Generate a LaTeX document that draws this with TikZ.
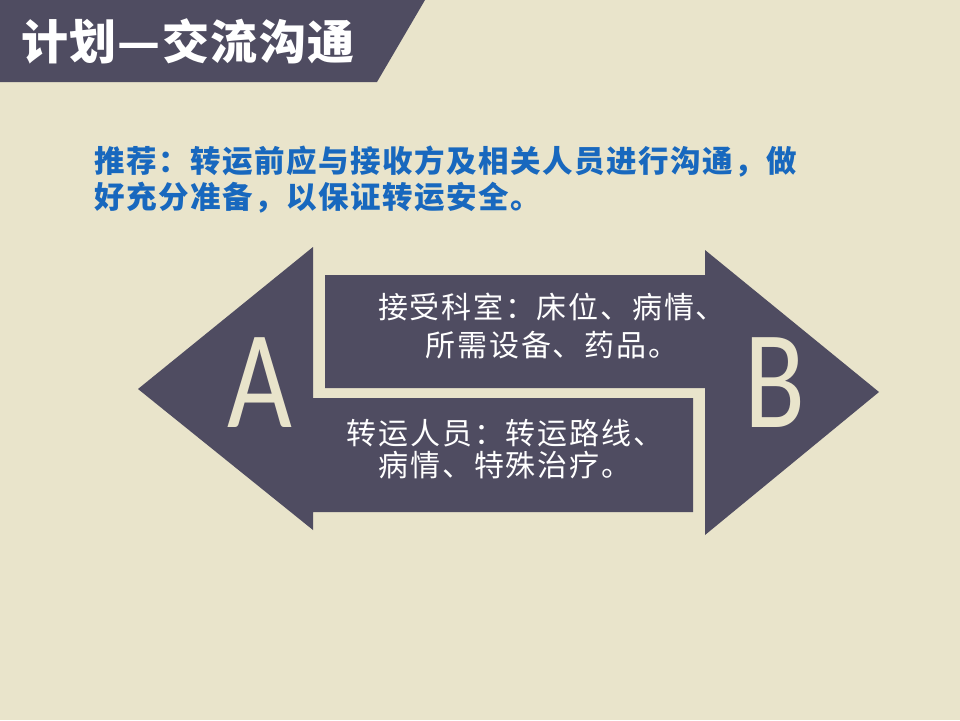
\documentclass[tikz,border=0pt]{standalone}
\usepackage{fontspec}
\newfontfamily\cjk{Noto Sans CJK SC}
\newfontfamily\latinsans{Carlito}
\definecolor{bgbeige}{RGB}{233,228,203}
\definecolor{slate}{RGB}{79,76,97}
\definecolor{textblue}{RGB}{24,104,190}
\tikzset{
  shape fill/.style={fill=slate, draw=none},
  bodytext/.style={text=white, inner sep=0pt, align=center},
  bigletter/.style={text=bgbeige, inner sep=0pt, anchor=base, xscale=0.8,
    font=\latinsans\fontsize{140}{140}\selectfont},
}
\begin{document}
\begin{tikzpicture}[x=1pt,y=-1pt]
\fill[bgbeige] (0,0) rectangle (960,720);
\useasboundingbox (0,0) rectangle (960,720);
% title banner
\fill[shape fill] (0,0) -- (425,0) -- (377,82) -- (0,82) -- cycle;
\node[text=white, inner sep=0pt, anchor=west, font=\cjk\bfseries\fontsize{47}{47}\selectfont\addfontfeatures{LetterSpace=3}] (title) at (21,41) {计划—交流沟通};
% recommendation text
\node[text=textblue, inner sep=0pt, anchor=west, align=left, font=\cjk\bfseries\fontsize{30.5}{36}\selectfont\addfontfeatures{LetterSpace=5}] (rec) at (94,180) {推荐：转运前应与接收方及相关人员进行沟通，做\\好充分准备，以保证转运安全。};
% arrow A (left pointing)
\fill[shape fill] (138,389) -- (313,247) -- (313,398) -- (693,398) -- (693,512) -- (313,512) -- (313,530) -- cycle;
% arrow B (right pointing)
\fill[shape fill] (325,275) -- (705,275) -- (705,250) -- (879,392) -- (705,535) -- (705,388) -- (325,388) -- cycle;
\node[bigletter] (A) at (260,427) {A};
\node[bigletter] (B) at (775,427) {B};
\node[bodytext, font=\cjk\fontsize{30}{38}\selectfont\addfontfeatures{LetterSpace=6}] (upper) at (552,326) {接受科室：床位、病情、\\所需设备、药品。};
\node[bodytext, font=\cjk\fontsize{30}{32}\selectfont\addfontfeatures{LetterSpace=6}] (lower) at (505,449) {转运人员：转运路线、\\病情、特殊治疗。};
\end{tikzpicture}
\end{document}
